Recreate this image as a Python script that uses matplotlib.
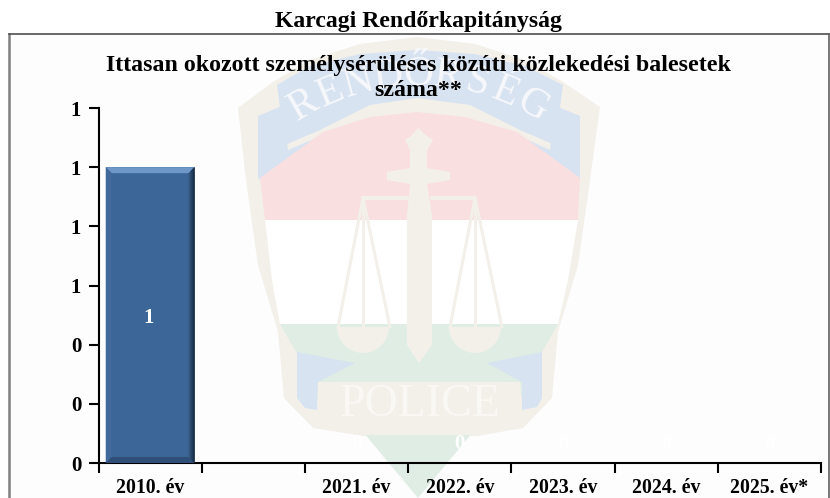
import numpy as np
import matplotlib
matplotlib.use("Agg")
import matplotlib.pyplot as plt
import matplotlib.patches as patches
from matplotlib.ticker import FormatStrFormatter
from matplotlib.transforms import IdentityTransform

plt.rcParams['font.family'] = ['Liberation Serif', 'DejaVu Serif']

# chart data
categories = ['2010. év', '', '2021. év', '2022. év', '2023. év', '2024. év', '2025. év*']
values = [1, np.nan, 0, 0, 0, 0, 0]
y_ticks = [0, 0.2, 0.4, 0.6, 0.8, 1.0, 1.2]
sup_title = 'Karcagi Rendőrkapitányság'
chart_title = 'Ittasan okozott személysérüléses közúti közlekedési balesetek\nszáma**'

W, H = 830, 498

# watermark colours
BEIGE = '#f3f0ea'
BLUE = '#d8e3f1'
RED = '#fadfe0'
GREEN = '#dfede4'


def poly(ax, pts, color, z=1):
    ax.add_patch(patches.Polygon(pts, closed=True, fc=color, ec='none', zorder=z))


def line(ax, xs, ys, lw=2.2):
    ax.plot(xs, ys, color=BEIGE, lw=lw, zorder=4, solid_capstyle='round')


# the police badge behind the chart, drawn in pixel coords
def draw_badge(ax):
    poly(ax, [(238, 108), (273, 82), (310, 60), (360, 44), (417, 37), (475, 44), (525, 60),
              (563, 82), (600, 107), (590, 180), (578, 265), (558, 332), (552, 398),
              (523, 428), (477, 436), (363, 436), (313, 428), (284, 398),
              (278, 332), (258, 265), (246, 180)], BEIGE)

    # wings and ribbon
    poly(ax, [(258, 178), (258, 116), (282, 106), (288, 150), (323, 135), (323, 150), (262, 182)], BLUE, 2)
    poly(ax, [(580, 178), (580, 116), (556, 106), (550, 150), (517, 135), (517, 150), (576, 182)], BLUE, 2)
    poly(ax, [(265, 220), (260, 178), (323, 132), (370, 117), (417, 112), (465, 117), (517, 132),
              (580, 178), (578, 220)], RED, 2)
    poly(ax, [(277, 85), (310, 66), (360, 54), (417, 50), (475, 54), (525, 66), (563, 85), (555, 145),
              (520, 130), (470, 105), (417, 98), (370, 105), (320, 130), (285, 145)], BLUE, 3)

    # white middle and green bottom
    poly(ax, [(265, 220), (578, 220), (568, 280), (558, 324), (280, 324), (272, 280)], '#ffffff', 2)
    poly(ax, [(280, 324), (558, 324), (543, 350), (520, 400), (473, 432), (418, 498), (363, 432),
              (318, 400), (295, 350)], GREEN, 2)
    poly(ax, [(297, 352), (355, 363), (318, 382), (317, 410), (305, 408), (297, 398)], BLUE, 3)
    poly(ax, [(542, 352), (487, 363), (522, 382), (522, 410), (537, 407), (542, 398)], BLUE, 3)
    poly(ax, [(318, 382), (520, 382), (523, 422), (477, 435), (363, 435), (317, 422)], BEIGE, 3)

    # sword
    poly(ax, [(418, 128), (427, 136), (433, 140), (427, 150), (427, 168), (450, 172), (450, 180),
              (427, 184), (432, 215), (432, 345), (419, 363), (407, 345), (407, 215), (410, 184),
              (387, 180), (387, 172), (410, 168), (410, 150), (405, 140), (411, 136)], BEIGE, 4)

    # scales
    for top, left, mid, right in [(363, 338, 363, 390), (475, 450, 475, 502)]:
        line(ax, [top, left], [198, 327])
        line(ax, [top, mid], [198, 327])
        line(ax, [top, right], [198, 327])
        ax.add_patch(patches.Wedge((mid, 327), (right - left) / 2, 0, 180,
                                   fc=BEIGE, ec='none', zorder=4))
    line(ax, [363, 407], [198, 198], 3)
    line(ax, [432, 475], [198, 198], 3)

    # lettering
    letters = 'RENDŐRSÉG'
    for i, ch in enumerate(letters):
        a = np.radians(-30 + 60 * i / (len(letters) - 1))
        ax.text(418 + 228 * np.sin(a), 303 - 228 * np.cos(a), ch, rotation=-np.degrees(a),
                ha='center', va='center', fontsize=30, color='#f6f8fb', zorder=5,
                rotation_mode='anchor')
    ax.text(420, 405, 'POLICE', ha='center', va='center', fontsize=33, color='#f9f8f5', zorder=5)


def draw_bevel(ax, bar):
    # bevel of the bar in display pixels, from the bar's own data position
    (x0, y0), (x1, y1) = ax.transData.transform(
        [(bar.get_x(), 0), (bar.get_x() + bar.get_width(), bar.get_height())])
    b = 6
    t = IdentityTransform()
    bands = [
        ([(x0, y1), (x1, y1), (x1 - b, y1 - b), (x0 + b, y1 - b)], '#6f97c8'),
        ([(x0, y1), (x0 + b, y1 - b), (x0 + b, y0 + b), (x0, y0)], '#41699b'),
        ([(x0, y0), (x0 + b, y0 + b), (x1 - b, y0 + b), (x1, y0)], '#2f4f78'),
    ]
    for pts, col in bands:
        ax.add_patch(patches.Polygon(pts, closed=True, fc=col, ec='none', transform=t, zorder=3, clip_on=False))
    # right edge fades to dark
    for k, col in enumerate(['#35597f', '#2c4b6e', '#233c59', '#1b2f47']):
        s = b * (1 - k / 4)
        ax.add_patch(patches.Polygon([(x1, y1), (x1, y0), (x1 - s, y0 + s), (x1 - s, y1 - s)], closed=True,
                                     fc=col, ec='none', transform=t, zorder=3 + k * 0.01, clip_on=False))


fig = plt.figure(figsize=(W / 100, H / 100), dpi=100, facecolor='white')

bg = fig.add_axes([0, 0, 1, 1], zorder=0)
bg.set_xlim(0, W)
bg.set_ylim(H, 0)
bg.axis('off')
bg.add_patch(patches.Rectangle((9, 34), 820, 480, fc='#fdfdfd', ec='none', zorder=0))
draw_badge(bg)
bg.plot([9, 9], [34, 498], color='#808080', lw=1.8, zorder=6)
bg.plot([9, 829], [34, 34], color='#505050', lw=1.2, zorder=6)
bg.plot([829, 829], [34, 498], color='#606060', lw=1.2, zorder=6)

ax = fig.add_axes([98.5 / W, (H - 463) / H, (821 - 98.5) / W, (463 - 108) / H], zorder=1)
ax.patch.set_alpha(0)
x = np.arange(len(categories))
bars = ax.bar(x, values, width=0.86, color='#3c6698', zorder=2)
ax.set_xlim(-0.5, len(categories) - 0.5)
ax.set_ylim(0, 1.2)

ax.set_yticks(y_ticks)
ax.yaxis.set_major_formatter(FormatStrFormatter('%.0f'))
ax.set_xticks(np.arange(len(categories) + 1) - 0.5)
ax.set_xticklabels([])
ax.set_xticks(x, minor=True)
ax.set_xticklabels(categories, minor=True, fontsize=14.2, fontweight='bold')
ax.tick_params(axis='x', which='minor', length=0, pad=10.5)
ax.tick_params(axis='both', which='major', length=7, width=1.5, color='black')
ax.tick_params(axis='y', labelsize=15, pad=5.5)
for lab in ax.get_yticklabels():
    lab.set_fontweight('bold')
for s in ['top', 'right']:
    ax.spines[s].set_visible(False)
for s in ['left', 'bottom']:
    ax.spines[s].set_linewidth(1.5)

draw_bevel(ax, bars[0])

for xi, v in zip(x, values):
    if np.isnan(v):
        continue
    if v > 0:
        ax.annotate(str(v), (xi, v / 2), xytext=(-1, -2), textcoords='offset points', ha='center', va='center',
                    color='white', fontsize=15, fontweight='bold', zorder=5)
    else:
        ax.annotate(str(v), (xi, v), xytext=(0, 14), textcoords='offset points', ha='center', va='center',
                    color='white', fontsize=15, fontweight='bold', zorder=5)

fig.text(418 / W, 1 - 21 / H, sup_title, ha='center', va='center', fontsize=17.1, fontweight='bold')
fig.text(418 / W, 1 - 78 / H, chart_title, ha='center', va='center', fontsize=17.2, fontweight='bold',
         linespacing=1.2, zorder=10)

fig.savefig('out.png', dpi=100)
